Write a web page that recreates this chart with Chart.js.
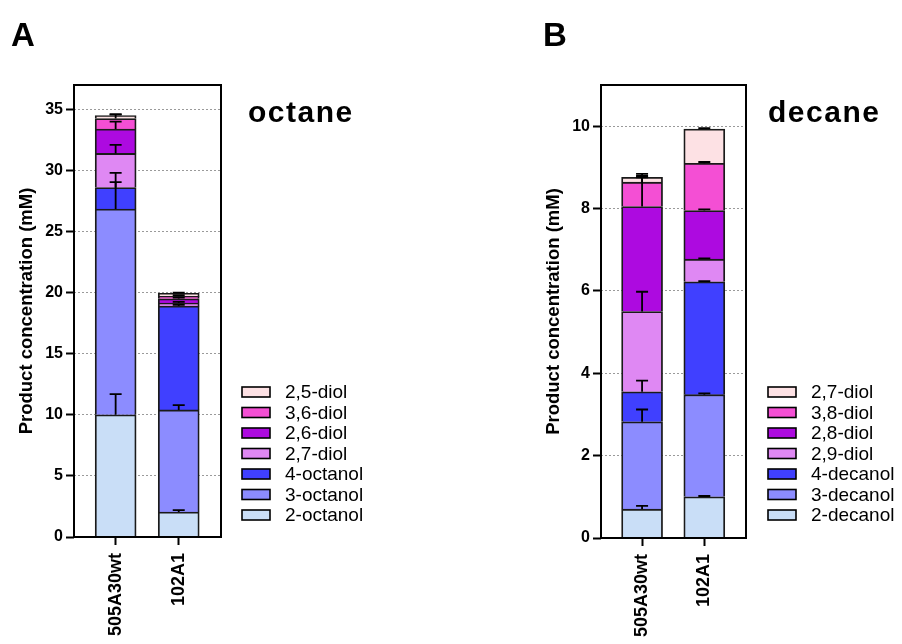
<!DOCTYPE html>
<html>
<head>
<meta charset="utf-8">
<script src="https://cdn.jsdelivr.net/npm/chart.js@4.4.1/dist/chart.umd.min.js"></script>
<style>
  html, body { margin: 0; padding: 0; background: #fff; }
  #wrap { position: relative; width: 902px; height: 644px; overflow: hidden; }
  canvas { position: absolute; top: 0; }
</style>
</head>
<body>
<div id="wrap">
  <canvas id="chartA" width="451" height="644" style="left:0"></canvas>
  <canvas id="chartB" width="451" height="644" style="left:451px"></canvas>
</div>
<script>
const FONT = '"Liberation Sans", Arial, Helvetica, sans-serif';

const strains = ['505A30wt', '102A1'];
const segmentColors = ['#c9def7', '#8c8cff', '#4040ff', '#df88f3', '#ad0ae0', '#f44fd4', '#fde1e4'];

// octane products, bottom of the stack first; values are [505A30wt, 102A1]
const octaneProducts = ['2-octanol', '3-octanol', '4-octanol', '2,7-diol', '2,6-diol', '3,6-diol', '2,5-diol'];
const octaneValues = [
  [10.0, 2.05],
  [16.85, 8.35],
  [1.75, 8.5],
  [2.8, 0.25],
  [2.0, 0.35],
  [0.85, 0.2],
  [0.25, 0.25]
];
const octaneErrors = [
  [1.7, 0.15],
  [2.2, 0.4],
  [1.2, 0.1],
  [0.7, 0.1],
  [0.6, 0.1],
  [0.35, 0.1],
  [0.1, 0.05]
];
const octaneTicks = [0, 5, 10, 15, 20, 25, 30, 35];

// decane products
const decaneProducts = ['2-decanol', '3-decanol', '4-decanol', '2,9-diol', '2,8-diol', '3,8-diol', '2,7-diol'];
const decaneValues = [
  [0.7, 1.0],
  [2.12, 2.48],
  [0.73, 2.74],
  [1.95, 0.55],
  [2.55, 1.18],
  [0.59, 1.15],
  [0.12, 0.83]
];
const decaneErrors = [
  [0.08, 0.02],
  [0.3, 0.03],
  [0.27, 0.02],
  [0.48, 0.02],
  [0.74, 0.03],
  [0.12, 0.03],
  [0.08, 0.02]
];
const decaneTicks = [0, 2, 4, 6, 8, 10];

// upward error bars, drawn over the whole stack
const errorBars = {
  id: 'errorBars',
  afterDatasetsDraw(chart) {
    const ctx = chart.ctx;
    const y = chart.scales.y;
    const unit = y.getPixelForValue(0) - y.getPixelForValue(1);
    ctx.save();
    ctx.strokeStyle = '#000';
    ctx.lineWidth = 1.8;
    chart.data.datasets.forEach((ds, d) => {
      chart.getDatasetMeta(d).data.forEach((bar, i) => {
        const end = bar.y - ds.errors[i] * unit;
        ctx.beginPath();
        ctx.moveTo(bar.x, bar.y);
        ctx.lineTo(bar.x, end);
        ctx.moveTo(bar.x - 6, end);
        ctx.lineTo(bar.x + 6, end);
        ctx.stroke();
      });
    });
    ctx.restore();
  }
};

// frame, panel letter, panel title and legend
const panelDecor = {
  id: 'panelDecor',
  afterDraw(chart, args, o) {
    const { ctx, chartArea: a } = chart;
    ctx.save();
    ctx.strokeStyle = '#000';
    ctx.lineWidth = 2;
    ctx.strokeRect(a.left, a.top, a.right - a.left, a.bottom - a.top);

    ctx.fillStyle = '#000';
    ctx.textAlign = 'left';
    ctx.textBaseline = 'alphabetic';
    ctx.font = 'bold 33px ' + FONT;
    ctx.fillText(o.letter, o.letterX, 46);
    ctx.font = 'bold 30px ' + FONT;
    ctx.letterSpacing = '1.5px';
    ctx.fillText(o.title, o.titleX, 122);
    ctx.letterSpacing = '0px';

    const sets = chart.data.datasets.slice().reverse();
    sets.forEach((ds, k) => {
      const cy = o.legendTop + k * 20.5;
      ctx.fillStyle = ds.backgroundColor;
      ctx.fillRect(o.legendX, cy - 5, 28, 10);
      ctx.strokeStyle = '#000';
      ctx.lineWidth = 1.6;
      ctx.strokeRect(o.legendX, cy - 5, 28, 10);
      ctx.fillStyle = '#000';
      ctx.font = '19px ' + FONT;
      ctx.textBaseline = 'middle';
      ctx.fillText(ds.label, o.legendX + 43, cy + 1);
    });
    ctx.restore();
  }
};

function makeChart(id, products, values, errors, ticks, yMax, pad, xHeight, decor) {
  const datasets = products.map((p, k) => ({
    label: p,
    data: values[k].map((v, i) => ({ x: i, y: v })),
    errors: errors[k],
    backgroundColor: segmentColors[k],
    borderColor: '#1a1a1a',
    borderWidth: 1.8,
    barThickness: 41
  }));

  return new Chart(document.getElementById(id), {
    type: 'bar',
    data: { datasets },
    plugins: [errorBars, panelDecor],
    options: {
      responsive: false,
      animation: false,
      events: [],
      layout: { padding: pad, autoPadding: false },
      plugins: {
        legend: { display: false },
        tooltip: { enabled: false },
        panelDecor: decor
      },
      scales: {
        x: {
          type: 'linear',
          stacked: true,
          offset: false,
          min: -0.66,
          max: 1.67,
          afterBuildTicks: s => { s.ticks = strains.map((_, i) => ({ value: i })); },
          afterFit: s => { s.height = xHeight; },
          grid: { offset: false, drawOnChartArea: false, tickLength: 8, tickWidth: 2, tickColor: '#000' },
          border: { display: false },
          ticks: {
            autoSkip: false,
            minRotation: 90,
            maxRotation: 90,
            padding: 8,
            color: '#000',
            font: { family: FONT, size: 18, weight: 'bold' },
            callback: v => strains[v]
          }
        },
        y: {
          stacked: true,
          min: 0,
          max: yMax,
          afterBuildTicks: s => { s.ticks = ticks.map(v => ({ value: v })); },
          afterFit: s => { s.width = 74; },
          grid: { color: '#9a9a9a', lineWidth: 1, tickLength: 8, tickWidth: 2, tickColor: '#000' },
          border: { display: false, dash: [2, 2] },
          ticks: {
            autoSkip: false,
            padding: 3,
            color: '#000',
            font: { family: FONT, size: 16, weight: 'bold' }
          },
          title: {
            display: true,
            text: 'Product concentration (mM)',
            color: '#000',
            font: { family: FONT, size: 18.5, weight: 'bold' },
            padding: { top: 16, bottom: 0 }
          }
        }
      }
    }
  });
}

makeChart('chartA', octaneProducts, octaneValues, octaneErrors, octaneTicks, 37,
  { left: 0, right: 230, top: 85, bottom: 0 }, 107,
  { letter: 'A', letterX: 11, title: 'octane', titleX: 248, legendX: 242, legendTop: 392 });

makeChart('chartB', decaneProducts, decaneValues, decaneErrors, decaneTicks, 11,
  { left: 76, right: 156, top: 85, bottom: 0 }, 106,
  { letter: 'B', letterX: 92, title: 'decane', titleX: 317, legendX: 317, legendTop: 392 });
</script>
</body>
</html>
